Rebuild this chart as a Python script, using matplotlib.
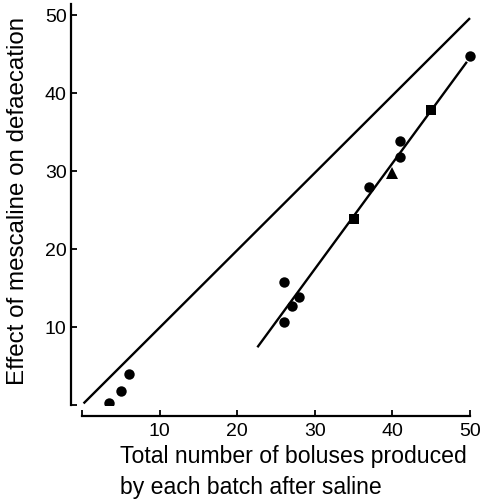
import matplotlib
matplotlib.use("Agg")
import matplotlib.pyplot as plt

plt.rcParams['font.family'] = ['Liberation Sans', 'DejaVu Sans']

# Data
circle_x = [3.5, 5.0, 6.0, 26.0, 26.0, 27.0, 28.0, 37.0, 41.0, 41.0, 50.0]
circle_y = [0.3, 1.8, 4.0, 15.8, 10.7, 12.7, 13.8, 27.9, 33.8, 31.8, 44.8]
square_x = [35.0, 45.0]
square_y = [23.8, 37.8]
triangle_x = [40.0]
triangle_y = [29.8]

equality_x = [0.2, 50.0]
equality_y = [0.2, 49.6]
regression_x = [22.6, 49.6]
regression_y = [7.4, 44.0]

xticks = [0, 10, 20, 30, 40, 50]
xtick_labels = ['', '10', '20', '30', '40', '50']
yticks = [0, 10, 20, 30, 40, 50]
ytick_labels = ['', '10', '20', '30', '40', '50']

W, H = 481, 503
fig = plt.figure(figsize=(W / 100, H / 100), dpi=100)
ax = fig.add_axes([82 / W, 98 / H, 51 * 7.76 / W, 51.4 * 7.8 / H])

ax.plot(equality_x, equality_y, color='black', lw=1.7, solid_capstyle='butt')
ax.plot(regression_x, regression_y, color='black', lw=1.7, solid_capstyle='butt')
ax.plot(circle_x, circle_y, 'o', color='black', ms=7.5, mew=0)
ax.plot(square_x, square_y, 's', color='black', ms=6.5, mew=0)
ax.plot(triangle_x, triangle_y, '^', color='black', ms=8, mew=0)

ax.set_xlim(0, 51)
ax.set_ylim(0, 51.4)

for s in ['top', 'right']:
    ax.spines[s].set_visible(False)
ax.spines['left'].set_position(('outward', 8))
ax.spines['bottom'].set_position(('outward', 8))
ax.spines['left'].set_bounds(0, 51.4)
ax.spines['bottom'].set_bounds(0, 50)
for s in ['left', 'bottom']:
    ax.spines[s].set_linewidth(1.6)

ax.set_xticks(xticks)
ax.set_xticklabels(xtick_labels)
ax.set_yticks(yticks)
ax.set_yticklabels(ytick_labels)
ax.tick_params(direction='in', length=4, width=1.3, labelsize=14, pad=3)
ax.tick_params(axis='x', pad=5)

fig.text(18 / W, 1 - 201 / H, 'Effect of mescaline on defaecation',
         rotation=90, ha='center', va='center', fontsize=17.4)
fig.text(120 / W, 1 - 494 / H, 'Total number of boluses produced\nby each batch after saline',
         ha='left', va='baseline', fontsize=16.6, linespacing=1.45,
         multialignment='left')

fig.savefig('out.png', dpi=100)
